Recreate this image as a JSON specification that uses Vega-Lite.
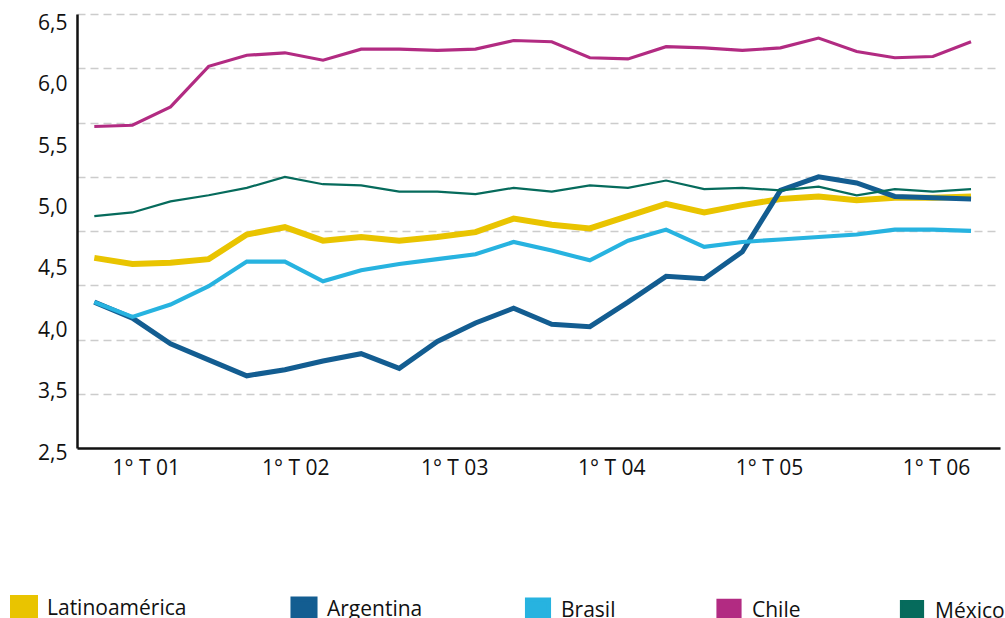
{
  "$schema": "https://vega.github.io/schema/vega-lite/v6.json",
  "width": 923,
  "height": 434,
  "autosize": {"type": "none"},
  "padding": {"left": 77, "top": 14, "right": 5, "bottom": 170},
  "background": "white",
  "config": {
    "font": "Open Sans",
    "view": {"stroke": null},
    "axis": {"labelColor": "#111111", "labelFontSize": 21, "labelFont": "Open Sans"},
    "legend": {"labelFont": "Open Sans"}
  },
  "data": {
    "values": [
      {"t": 1, "Latinoamérica": 4.59, "Argentina": 4.23, "Brasil": 4.23, "Chile": 5.66, "México": 4.93},
      {"t": 2, "Latinoamérica": 4.54, "Argentina": 4.10, "Brasil": 4.11, "Chile": 5.67, "México": 4.96},
      {"t": 3, "Latinoamérica": 4.55, "Argentina": 3.89, "Brasil": 4.21, "Chile": 5.82, "México": 5.05},
      {"t": 4, "Latinoamérica": 4.58, "Argentina": 3.76, "Brasil": 4.36, "Chile": 6.15, "México": 5.10},
      {"t": 5, "Latinoamérica": 4.78, "Argentina": 3.63, "Brasil": 4.56, "Chile": 6.24, "México": 5.16},
      {"t": 6, "Latinoamérica": 4.84, "Argentina": 3.68, "Brasil": 4.56, "Chile": 6.26, "México": 5.25},
      {"t": 7, "Latinoamérica": 4.73, "Argentina": 3.75, "Brasil": 4.40, "Chile": 6.20, "México": 5.19},
      {"t": 8, "Latinoamérica": 4.76, "Argentina": 3.81, "Brasil": 4.49, "Chile": 6.29, "México": 5.18},
      {"t": 9, "Latinoamérica": 4.73, "Argentina": 3.69, "Brasil": 4.54, "Chile": 6.29, "México": 5.13},
      {"t": 10, "Latinoamérica": 4.76, "Argentina": 3.91, "Brasil": 4.58, "Chile": 6.28, "México": 5.13},
      {"t": 11, "Latinoamérica": 4.80, "Argentina": 4.06, "Brasil": 4.62, "Chile": 6.29, "México": 5.11},
      {"t": 12, "Latinoamérica": 4.91, "Argentina": 4.18, "Brasil": 4.72, "Chile": 6.36, "México": 5.16},
      {"t": 13, "Latinoamérica": 4.86, "Argentina": 4.05, "Brasil": 4.65, "Chile": 6.35, "México": 5.13},
      {"t": 14, "Latinoamérica": 4.83, "Argentina": 4.03, "Brasil": 4.57, "Chile": 6.22, "México": 5.18},
      {"t": 15, "Latinoamérica": 4.93, "Argentina": 4.23, "Brasil": 4.73, "Chile": 6.21, "México": 5.16},
      {"t": 16, "Latinoamérica": 5.03, "Argentina": 4.44, "Brasil": 4.82, "Chile": 6.31, "México": 5.22},
      {"t": 17, "Latinoamérica": 4.96, "Argentina": 4.42, "Brasil": 4.68, "Chile": 6.30, "México": 5.15},
      {"t": 18, "Latinoamérica": 5.02, "Argentina": 4.64, "Brasil": 4.72, "Chile": 6.28, "México": 5.16},
      {"t": 19, "Latinoamérica": 5.07, "Argentina": 5.14, "Brasil": 4.74, "Chile": 6.30, "México": 5.14},
      {"t": 20, "Latinoamérica": 5.09, "Argentina": 5.25, "Brasil": 4.76, "Chile": 6.38, "México": 5.17},
      {"t": 21, "Latinoamérica": 5.06, "Argentina": 5.20, "Brasil": 4.78, "Chile": 6.27, "México": 5.10},
      {"t": 22, "Latinoamérica": 5.08, "Argentina": 5.09, "Brasil": 4.82, "Chile": 6.22, "México": 5.15},
      {"t": 23, "Latinoamérica": 5.08, "Argentina": 5.08, "Brasil": 4.82, "Chile": 6.23, "México": 5.13},
      {"t": 24, "Latinoamérica": 5.09, "Argentina": 5.07, "Brasil": 4.81, "Chile": 6.35, "México": 5.15}
    ]
  },
  "transform": [
    {"fold": ["Latinoamérica", "Argentina", "Brasil", "Chile", "México"], "as": ["serie", "valor"]}
  ],
  "encoding": {
    "x": {
      "field": "t",
      "type": "quantitative",
      "scale": {"domain": [0.546, 24.76], "nice": false, "zero": false},
      "axis": {
        "title": null,
        "grid": false,
        "ticks": false,
        "labelFlush": false,
        "values": [2.35, 6.27, 10.44, 14.56, 18.7, 23.08],
        "labelExpr": "datum.value < 4 ? '1° T 01' : datum.value < 8 ? '1° T 02' : datum.value < 12 ? '1° T 03' : datum.value < 16 ? '1° T 04' : datum.value < 20 ? '1° T 05' : '1° T 06'",
        "domainColor": "#111111",
        "domainWidth": 2.5,
        "labelPadding": 9
      }
    }
  },
  "layer": [
    {
      "mark": {"type": "rule", "opacity": 0},
      "encoding": {
        "y": {
          "field": "valor",
          "type": "quantitative",
          "scale": {"domain": [2.5, 6.5], "nice": false, "zero": false},
          "axis": {
            "orient": "left",
            "title": null,
            "grid": true,
            "gridDash": [8, 5],
            "gridColor": "#cccccc",
            "gridWidth": 1.5,
            "values": [3, 3.5, 4, 4.5, 5, 5.5, 6, 6.5],
            "labels": false,
            "ticks": false,
            "domain": false
          }
        }
      }
    },
    {
      "mark": {"type": "line", "strokeJoin": "miter", "strokeCap": "butt"},
      "encoding": {
        "y": {
          "field": "valor",
          "type": "quantitative",
          "scale": {"domain": [3.042, 6.576], "nice": false, "zero": false},
          "axis": {
            "orient": "left",
            "title": null,
            "grid": false,
            "ticks": false,
            "values": [3.045, 3.5, 4, 4.5, 5, 5.5, 6, 6.5],
            "labelExpr": "datum.value < 3.1 ? '2,5' : replace(format(datum.value, '.1f'), '.', ',')",
            "labelOffset": {"condition": {"test": "datum.value < 3.1", "value": 6}, "value": 0},
            "domain": true,
            "domainColor": "#111111",
            "domainWidth": 2.5,
            "labelPadding": 10
          }
        },
        "color": {
          "field": "serie",
          "type": "nominal",
          "scale": {
            "domain": ["Latinoamérica", "Argentina", "Brasil", "Chile", "México"],
            "range": ["#E9C400", "#135D91", "#27B3E0", "#B22B82", "#066B5C"]
          },
          "legend": {
            "title": null,
            "orient": "none",
            "legendX": -67,
            "legendY": 581,
            "direction": "horizontal",
            "columns": 5,
            "columnPadding": 95,
            "symbolType": "square",
            "symbolSize": 484,
            "symbolStrokeWidth": 0,
            "labelFontSize": 21,
            "labelColor": "#111111",
            "labelOffset": 9,
            "labelLimit": 300,
            "encode": {
              "symbols": {"update": {"fill": {"scale": "color", "field": "value"}, "fillOpacity": {"value": 1}, "strokeWidth": {"value": 0}}}
            }
          }
        },
        "strokeWidth": {
          "field": "serie",
          "type": "nominal",
          "scale": {
            "domain": ["Latinoamérica", "Argentina", "Brasil", "Chile", "México"],
            "range": [6, 2.2, 2.2, 2.2, 2.2]
          },
          "legend": null
        }
      }
    }
  ],
  "resolve": {"scale": {"y": "independent"}, "axis": {"y": "independent"}}
}
